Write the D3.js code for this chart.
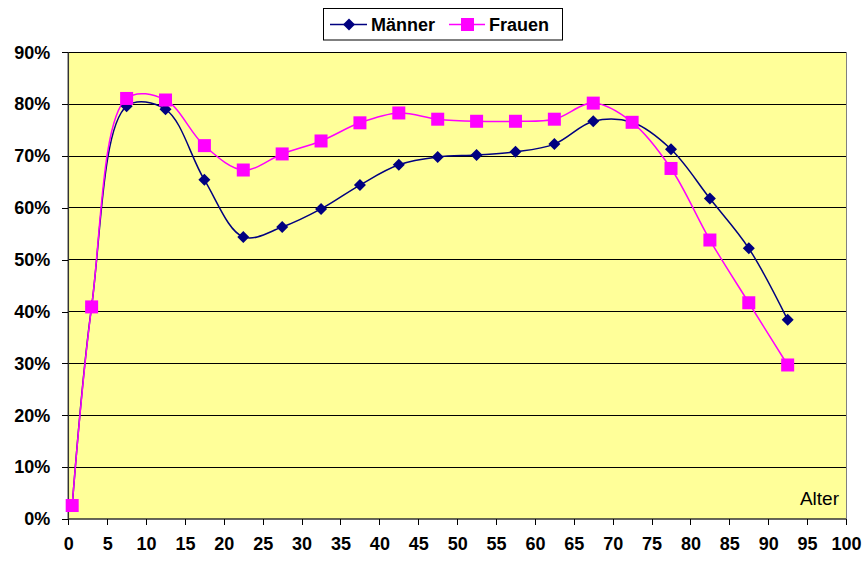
<!DOCTYPE html>
<html><head><meta charset="utf-8">
<script src="https://cdn.jsdelivr.net/npm/d3@7"></script>
<style>body{margin:0;background:#fff}svg{display:block}text{font-family:"Liberation Sans",Arial,sans-serif}</style>
</head><body>
<script>
const ages = [0.5, 3, 7.5, 12.5, 17.5, 22.5, 27.5, 32.5, 37.5, 42.5, 47.5, 52.5, 57.5, 62.5, 67.5, 72.5, 77.5, 82.5, 87.5, 92.5];
const maenner = [0.025, 0.41, 0.796, 0.790, 0.654, 0.544, 0.563, 0.598, 0.644, 0.683, 0.698, 0.702, 0.708, 0.723, 0.767, 0.765, 0.713, 0.618, 0.522, 0.384];
const frauen = [0.026, 0.409, 0.811, 0.808, 0.720, 0.673, 0.704, 0.729, 0.764, 0.783, 0.771, 0.767, 0.767, 0.771, 0.802, 0.765, 0.676, 0.538, 0.417, 0.297];
const seriesNames = ["Männer", "Frauen"];
const xTicks = d3.range(0, 101, 5);
const yTicks = d3.range(0, 0.91, 0.1);

const W = 866, H = 561;
const m = {left: 68.3, right: 846, top: 52.3, bottom: 519};
const svg = d3.select("body").append("svg").attr("width", W).attr("height", H);
const x = d3.scaleLinear().domain([0, 100]).range([m.left, m.right]);
const y = d3.scaleLinear().domain([0, 0.9]).range([m.bottom, m.top]);

svg.append("rect").attr("x", m.left).attr("y", m.top).attr("width", m.right - m.left).attr("height", m.bottom - m.top)
  .attr("fill", "#FFFF99");

// gridlines
svg.append("g").selectAll("line").data(yTicks.slice(1)).join("line")
  .attr("x1", m.left).attr("x2", m.right).attr("y1", d => y(d)).attr("y2", d => y(d))
  .attr("stroke", "#000").attr("stroke-width", 1).attr("shape-rendering", "crispEdges");

// border right
svg.append("line").attr("x1", m.right).attr("x2", m.right).attr("y1", m.top).attr("y2", m.bottom)
  .attr("stroke", "#808080").attr("shape-rendering", "crispEdges");

// axes
const yAxis = svg.append("g").attr("transform", `translate(${m.left},0)`)
  .call(d3.axisLeft(y).tickValues(yTicks).tickFormat(d3.format(".0%")).tickSize(6).tickPadding(12));
const xAxis = svg.append("g").attr("transform", `translate(0,${m.bottom})`)
  .call(d3.axisBottom(x).tickValues(xTicks).tickSize(6).tickPadding(12));
[yAxis, xAxis].forEach(a => {
  a.select(".domain").attr("stroke", "#333").attr("stroke-width", 1.5);
  a.selectAll(".tick line").attr("stroke", "#000").attr("shape-rendering", "crispEdges");
  a.selectAll("text").attr("font-size", 18).attr("font-weight", "bold").attr("fill", "#000")
    .style("font-family", '"Liberation Sans", Arial, sans-serif');
});
yAxis.select(".domain").attr("d", `M0,${m.top}V${m.bottom}`);
xAxis.select(".domain").attr("d", `M${m.left},0H${m.right}`);

svg.append("text").attr("x", 839).attr("y", 505).attr("text-anchor", "end")
  .attr("font-size", 19).text("Alter");

const colors = ["#000080", "#FF00FF"];
const data = [maenner, frauen];
const line = d3.line().x((d, i) => x(ages[i])).y(d => y(d)).curve(d3.curveCatmullRom.alpha(0.5));

data.forEach((vals, si) => {
  svg.append("path").datum(vals).attr("d", line).attr("fill", "none")
    .attr("stroke", colors[si]).attr("stroke-width", 1.5);
});
// markers
const diamond = s => `M0,${-s}L${s},0L0,${s}L${-s},0Z`;
svg.append("g").selectAll("path").data(maenner).join("path")
  .attr("transform", (d, i) => `translate(${x(ages[i])},${y(d)})`)
  .attr("d", diamond(6)).attr("fill", colors[0]);
svg.append("g").selectAll("rect").data(frauen).join("rect")
  .attr("x", (d, i) => x(ages[i]) - 6.5).attr("y", d => y(d) - 6.5)
  .attr("width", 13).attr("height", 13).attr("fill", colors[1]);

// legend
const lg = svg.append("g");
lg.append("rect").attr("x", 323.5).attr("y", 8.5).attr("width", 239).attr("height", 31.5)
  .attr("fill", "#fff").attr("stroke", "#000").attr("stroke-width", 1);
lg.append("line").attr("x1", 330).attr("x2", 367).attr("y1", 24.5).attr("y2", 24.5).attr("stroke", colors[0]).attr("stroke-width", 1.5);
lg.append("path").attr("transform", "translate(349,24.5)").attr("d", diamond(6)).attr("fill", colors[0]);
lg.append("text").attr("x", 371).attr("y", 31).attr("font-size", 18).attr("font-weight", "bold").text(seriesNames[0]);
lg.append("line").attr("x1", 449).attr("x2", 485).attr("y1", 24.5).attr("y2", 24.5).attr("stroke", colors[1]).attr("stroke-width", 1.5);
lg.append("rect").attr("x", 461).attr("y", 18).attr("width", 13).attr("height", 13).attr("fill", colors[1]);
lg.append("text").attr("x", 489).attr("y", 31).attr("font-size", 18).attr("font-weight", "bold").text(seriesNames[1]);
</script>
</body></html>
